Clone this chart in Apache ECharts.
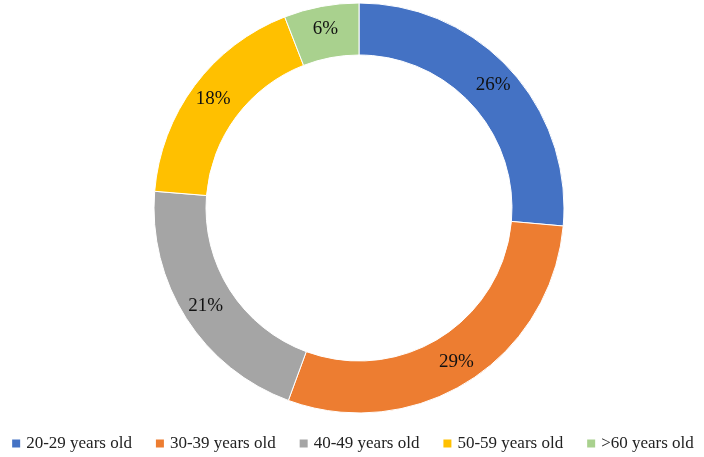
<html>
<head>
    <meta charset="UTF-8">
    <title>Age distribution</title>
    <script src="https://cdn.jsdelivr.net/npm/echarts@6/dist/echarts.min.js"></script>
</head>
<body style="margin:0;">
    <div id="container" style="width: 704px;height:457px;"></div>
</body>
<script>
    // shares (label shows the rounded value)
    var categories = ['20-29 years old', '30-39 years old', '40-49 years old', '50-59 years old', '>60 years old'];
    var values = [26.4, 29.2, 20.7, 17.8, 5.9];
    var colors = ['#4472C4', '#ED7D31', '#A5A5A5', '#FFC000', '#A9D18E'];

    var mycharts = echarts.init(document.getElementById('container'));
    var data = [];
    for (var i = 0; i < categories.length; i++) {
        data.push({ name: categories[i], value: values[i], itemStyle: { color: colors[i] } });
    }
    var option = {
        animation: false,
        textStyle: { fontFamily: '"Liberation Serif", "DejaVu Serif", serif' },
        legend: {
            bottom: 5,
            left: 'center',
            padding: 0,
            width: 704,
            itemWidth: 10,
            itemHeight: 10,
            itemGap: 22,
            icon: 'rect',
            textStyle: { fontSize: 17, color: '#222', fontFamily: '"Liberation Serif", serif' },
            data: categories
        },
        series: [{
            type: 'pie',
            center: [359, 208],
            radius: [153, 205],
            startAngle: 90,
            clockwise: true,
            itemStyle: { borderColor: '#fff', borderWidth: 1 },
            label: {
                position: 'inside',
                formatter: function (p) { return Math.round(p.value) + '%'; },
                fontSize: 19,
                color: '#111',
                padding: [6, 0, 0, 0],
                fontFamily: '"Liberation Serif", serif'
            },
            labelLine: { show: false },
            data: data
        }]
    };
    mycharts.setOption(option);
</script>
</html>
